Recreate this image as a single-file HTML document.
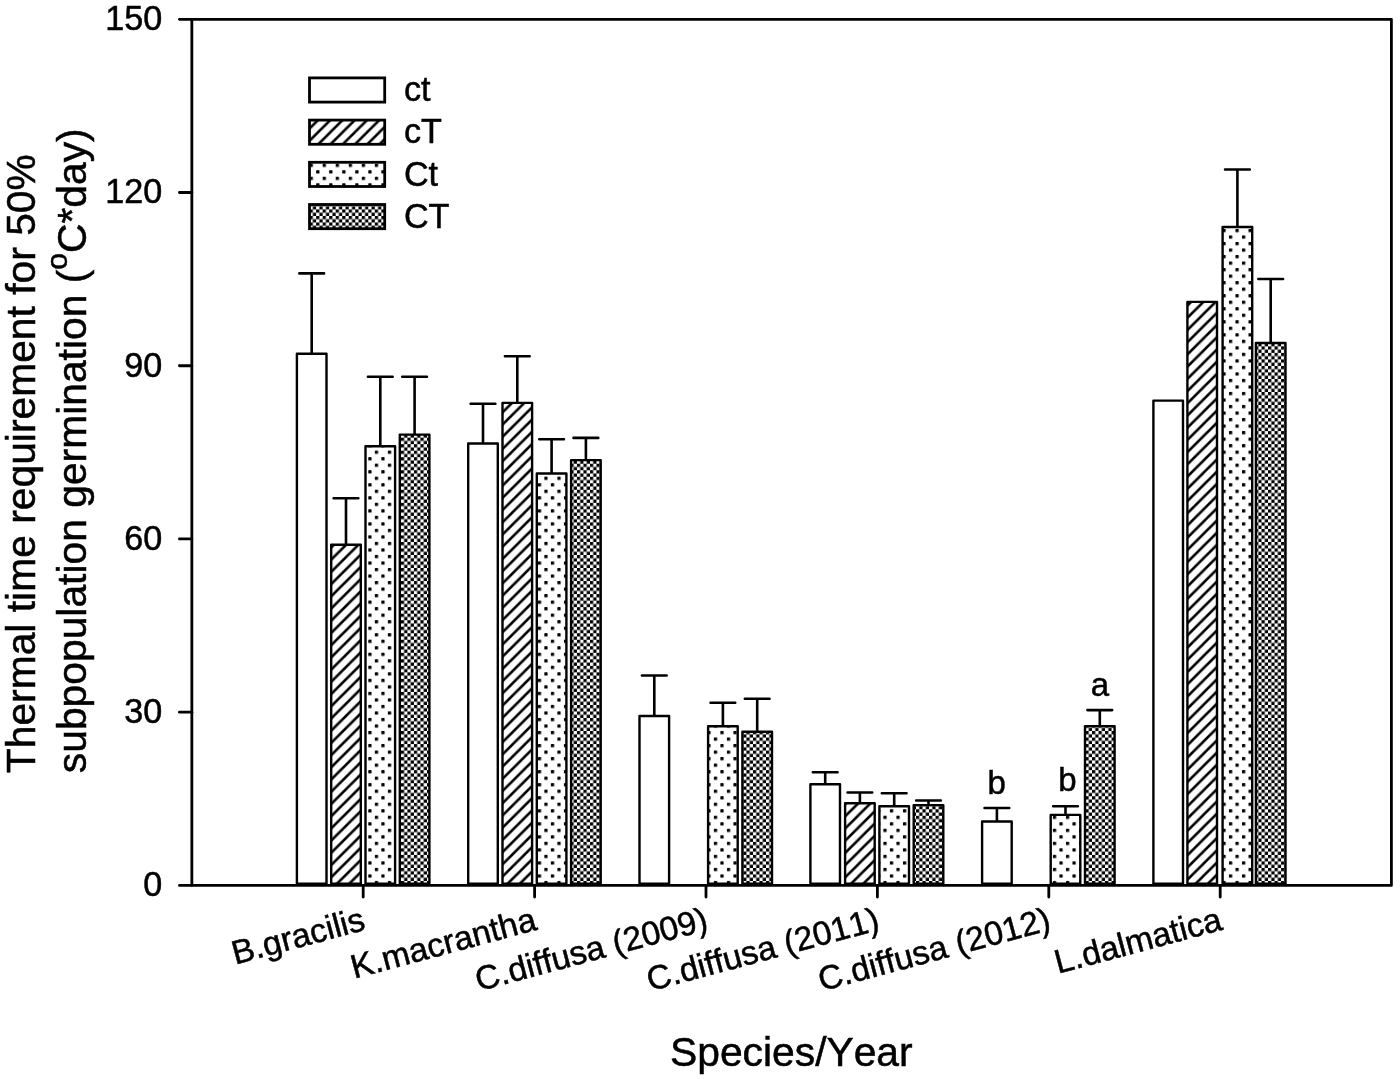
<!DOCTYPE html>
<html lang="en"><head><meta charset="utf-8"><title>Thermal time requirement chart</title>
<style>html,body{margin:0;padding:0;background:#fff}svg{display:block}text{font-family:"Liberation Sans",Arial,Helvetica,sans-serif;fill:#000;stroke:#000;stroke-width:0.5px;font-kerning:none}</style></head><body>
<svg width="1400" height="1079" viewBox="0 0 1400 1079">
<defs>
<pattern id="hatchL" patternUnits="userSpaceOnUse" width="12.26" height="12.215" patternTransform="translate(11.61,120.0)"><rect width="12.26" height="12.215" fill="#fff"/><path d="M-12.26,12.215 L12.26,-12.215 M-12.26,24.43 L24.52,-12.215 M0,24.43 L24.52,0" stroke="#000" stroke-width="2.6" stroke-linecap="square"/></pattern>
<pattern id="hatch0" patternUnits="userSpaceOnUse" width="12.26" height="12.215" patternTransform="translate(2.65,545.0)"><rect width="12.26" height="12.215" fill="#fff"/><path d="M-12.26,12.215 L12.26,-12.215 M-12.26,24.43 L24.52,-12.215 M0,24.43 L24.52,0" stroke="#000" stroke-width="2.6" stroke-linecap="square"/></pattern>
<pattern id="hatch1" patternUnits="userSpaceOnUse" width="12.26" height="12.215" patternTransform="translate(9.29,403.0)"><rect width="12.26" height="12.215" fill="#fff"/><path d="M-12.26,12.215 L12.26,-12.215 M-12.26,24.43 L24.52,-12.215 M0,24.43 L24.52,0" stroke="#000" stroke-width="2.6" stroke-linecap="square"/></pattern>
<pattern id="hatch3" patternUnits="userSpaceOnUse" width="12.26" height="12.215" patternTransform="translate(0.33,803.0)"><rect width="12.26" height="12.215" fill="#fff"/><path d="M-12.26,12.215 L12.26,-12.215 M-12.26,24.43 L24.52,-12.215 M0,24.43 L24.52,0" stroke="#000" stroke-width="2.6" stroke-linecap="square"/></pattern>
<pattern id="hatch5" patternUnits="userSpaceOnUse" width="12.26" height="12.215" patternTransform="translate(1.8,302.0)"><rect width="12.26" height="12.215" fill="#fff"/><path d="M-12.26,12.215 L12.26,-12.215 M-12.26,24.43 L24.52,-12.215 M0,24.43 L24.52,0" stroke="#000" stroke-width="2.6" stroke-linecap="square"/></pattern>
<pattern id="dots" patternUnits="userSpaceOnUse" width="13.04" height="13.04" patternTransform="translate(9.69,7.22)"><rect width="13.04" height="13.04" fill="#fff"/><rect x="0" y="0" width="3.3" height="3.3" rx="0.6" fill="#000"/><rect x="6.52" y="6.52" width="3.3" height="3.3" rx="0.6" fill="#000"/></pattern>
<pattern id="check" patternUnits="userSpaceOnUse" width="6.52" height="6.52" patternTransform="translate(3.16,0.8)"><rect width="6.52" height="6.52" fill="#fff"/><rect x="0" y="0" width="3.26" height="3.26" fill="#000"/><rect x="3.26" y="3.26" width="3.26" height="3.26" fill="#000"/></pattern>
</defs>
<rect width="1400" height="1079" fill="#fff"/>
<g stroke="#000" stroke-linejoin="round">
<path d="M311.70,353.80 V273.40 M299.35,273.40 H324.05" fill="none" stroke-width="2.6" stroke-linecap="round"/>
<rect x="296.90" y="353.80" width="29.6" height="530.00" fill="#fff" stroke-width="2.4"/>
<path d="M346.00,544.70 V498.20 M333.65,498.20 H358.35" fill="none" stroke-width="2.6" stroke-linecap="round"/>
<rect x="331.20" y="544.70" width="29.6" height="339.10" fill="url(#hatch0)" stroke-width="2.4"/>
<path d="M380.30,446.20 V376.70 M367.95,376.70 H392.65" fill="none" stroke-width="2.6" stroke-linecap="round"/>
<rect x="365.50" y="446.20" width="29.6" height="437.60" fill="url(#dots)" stroke-width="2.4"/>
<path d="M414.60,434.60 V376.70 M402.25,376.70 H426.95" fill="none" stroke-width="2.6" stroke-linecap="round"/>
<rect x="399.80" y="434.60" width="29.6" height="449.20" fill="url(#check)" stroke-width="2.4"/>
<path d="M483.00,443.50 V403.80 M470.65,403.80 H495.35" fill="none" stroke-width="2.6" stroke-linecap="round"/>
<rect x="468.20" y="443.50" width="29.6" height="440.30" fill="#fff" stroke-width="2.4"/>
<path d="M517.30,402.90 V356.30 M504.95,356.30 H529.65" fill="none" stroke-width="2.6" stroke-linecap="round"/>
<rect x="502.50" y="402.90" width="29.6" height="480.90" fill="url(#hatch1)" stroke-width="2.4"/>
<path d="M551.60,473.50 V439.30 M539.25,439.30 H563.95" fill="none" stroke-width="2.6" stroke-linecap="round"/>
<rect x="536.80" y="473.50" width="29.6" height="410.30" fill="url(#dots)" stroke-width="2.4"/>
<path d="M585.90,460.10 V437.90 M573.55,437.90 H598.25" fill="none" stroke-width="2.6" stroke-linecap="round"/>
<rect x="571.10" y="460.10" width="29.6" height="423.70" fill="url(#check)" stroke-width="2.4"/>
<path d="M654.30,716.00 V675.50 M641.95,675.50 H666.65" fill="none" stroke-width="2.6" stroke-linecap="round"/>
<rect x="639.50" y="716.00" width="29.6" height="167.80" fill="#fff" stroke-width="2.4"/>
<path d="M722.90,726.20 V702.70 M710.55,702.70 H735.25" fill="none" stroke-width="2.6" stroke-linecap="round"/>
<rect x="708.10" y="726.20" width="29.6" height="157.60" fill="url(#dots)" stroke-width="2.4"/>
<path d="M757.20,731.80 V698.80 M744.85,698.80 H769.55" fill="none" stroke-width="2.6" stroke-linecap="round"/>
<rect x="742.40" y="731.80" width="29.6" height="152.00" fill="url(#check)" stroke-width="2.4"/>
<path d="M825.20,784.20 V772.30 M812.85,772.30 H837.55" fill="none" stroke-width="2.6" stroke-linecap="round"/>
<rect x="810.40" y="784.20" width="29.6" height="99.60" fill="#fff" stroke-width="2.4"/>
<path d="M859.90,803.20 V792.50 M847.55,792.50 H872.25" fill="none" stroke-width="2.6" stroke-linecap="round"/>
<rect x="845.10" y="803.20" width="29.6" height="80.60" fill="url(#hatch3)" stroke-width="2.4"/>
<path d="M894.20,806.30 V793.20 M881.85,793.20 H906.55" fill="none" stroke-width="2.6" stroke-linecap="round"/>
<rect x="879.40" y="806.30" width="29.6" height="77.50" fill="url(#dots)" stroke-width="2.4"/>
<path d="M928.50,805.10 V800.50 M916.15,800.50 H940.85" fill="none" stroke-width="2.6" stroke-linecap="round"/>
<rect x="913.70" y="805.10" width="29.6" height="78.70" fill="url(#check)" stroke-width="2.4"/>
<path d="M996.90,821.50 V808.00 M984.55,808.00 H1009.25" fill="none" stroke-width="2.6" stroke-linecap="round"/>
<rect x="982.10" y="821.50" width="29.6" height="62.30" fill="#fff" stroke-width="2.4"/>
<path d="M1065.50,814.90 V806.20 M1053.15,806.20 H1077.85" fill="none" stroke-width="2.6" stroke-linecap="round"/>
<rect x="1050.70" y="814.90" width="29.6" height="68.90" fill="url(#dots)" stroke-width="2.4"/>
<path d="M1099.80,726.10 V710.10 M1087.45,710.10 H1112.15" fill="none" stroke-width="2.6" stroke-linecap="round"/>
<rect x="1085.00" y="726.10" width="29.6" height="157.70" fill="url(#check)" stroke-width="2.4"/>
<rect x="1153.40" y="400.60" width="29.6" height="483.20" fill="#fff" stroke-width="2.4"/>
<rect x="1187.40" y="301.90" width="29.6" height="581.90" fill="url(#hatch5)" stroke-width="2.4"/>
<path d="M1237.40,227.00 V169.50 M1225.05,169.50 H1249.75" fill="none" stroke-width="2.6" stroke-linecap="round"/>
<rect x="1222.60" y="227.00" width="29.6" height="656.80" fill="url(#dots)" stroke-width="2.4"/>
<path d="M1270.70,343.00 V279.00 M1258.35,279.00 H1283.05" fill="none" stroke-width="2.6" stroke-linecap="round"/>
<rect x="1255.90" y="343.00" width="29.6" height="540.80" fill="url(#check)" stroke-width="2.4"/>
</g>
<g stroke="#000" stroke-width="2.8" fill="none" stroke-linecap="round">
<rect x="191.85" y="19.3" width="1199.5500000000002" height="866.1" stroke-linejoin="round"/>
<path d="M191.85,885.40 H179.45"/>
<path d="M191.85,712.18 H179.45"/>
<path d="M191.85,538.96 H179.45"/>
<path d="M191.85,365.74 H179.45"/>
<path d="M191.85,192.52 H179.45"/>
<path d="M191.85,19.30 H179.45"/>
<path d="M363.20,885.4 V897.1"/>
<path d="M534.60,885.4 V897.1"/>
<path d="M706.00,885.4 V897.1"/>
<path d="M877.40,885.4 V897.1"/>
<path d="M1048.80,885.4 V897.1"/>
<path d="M1220.20,885.4 V897.1"/>
</g>
<g font-size="34.2" text-anchor="end">
<text transform="translate(162.3,896.30) scale(1,1.045)">0</text>
<text transform="translate(162.3,723.08) scale(1,1.045)">30</text>
<text transform="translate(162.3,549.86) scale(1,1.045)">60</text>
<text transform="translate(162.3,376.64) scale(1,1.045)">90</text>
<text transform="translate(162.3,203.42) scale(1,1.045)">120</text>
<text transform="translate(162.3,30.20) scale(1,1.045)">150</text>
</g>
<g font-size="33.6" text-anchor="end">
<text transform="translate(366.80,929.40) rotate(-15)">B.gracilis</text>
<text transform="translate(538.20,929.40) rotate(-15)">K.macrantha</text>
<text transform="translate(709.60,929.40) rotate(-15)">C.diffusa (2009)</text>
<text transform="translate(881.00,929.40) rotate(-15)">C.diffusa (2011)</text>
<text transform="translate(1052.40,929.40) rotate(-15)">C.diffusa (2012)</text>
<text transform="translate(1223.80,929.40) rotate(-15)">L.dalmatica</text>
</g>
<g stroke="#000" stroke-width="2.8" stroke-linejoin="miter">
<rect x="309.5" y="77.90" width="75.2" height="24.2" fill="#fff"/>
<rect x="309.5" y="120.10" width="75.2" height="24.2" fill="url(#hatchL)"/>
<rect x="309.5" y="162.30" width="75.2" height="24.2" fill="url(#dots)"/>
<rect x="309.5" y="204.50" width="75.2" height="24.2" fill="url(#check)"/>
</g>
<g font-size="34.2">
<text transform="translate(403.9,101.20) scale(1,1.035)">ct</text>
<text transform="translate(403.9,143.40) scale(1,1.035)">cT</text>
<text transform="translate(403.9,185.60) scale(1,1.035)">Ct</text>
<text transform="translate(403.9,227.80) scale(1,1.035)">CT</text>
</g>
<g font-size="33" text-anchor="middle">
<text x="996.7" y="794.2">b</text><text x="1067.5" y="791.3">b</text><text x="1100" y="696.3">a</text>
</g>
<g font-size="40.8">
<text x="670" y="1065.6">Species/Year</text>
<text transform="translate(35.1,773.2) rotate(-90)">Thermal time requirement for 50%</text>
<text transform="translate(86.4,773.2) rotate(-90)">subpopulation germination (<tspan font-size="30" dy="-19">o</tspan><tspan dy="19">C*day)</tspan></text>
</g>
</svg></body></html>
